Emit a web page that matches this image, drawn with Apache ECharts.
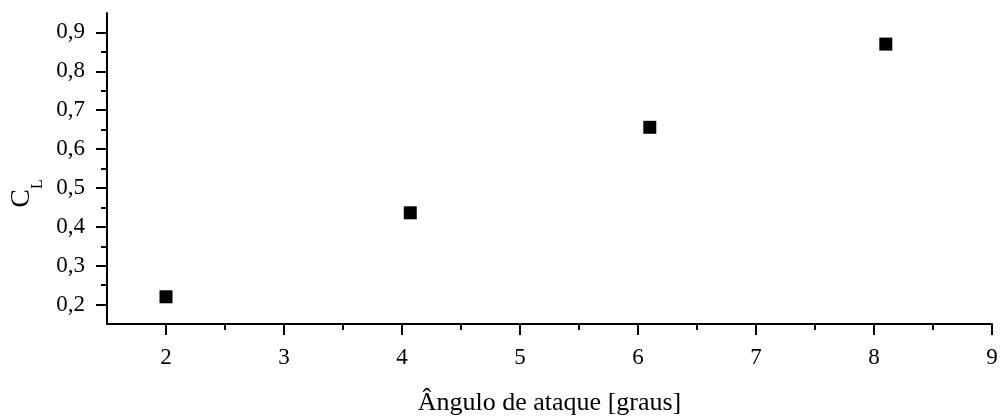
<!DOCTYPE html>
<html>
<head>
<meta charset="utf-8">
<script src="https://cdn.jsdelivr.net/npm/echarts@6/dist/echarts.min.js"></script>
<style>
  html, body { margin: 0; padding: 0; background: #fff; }
  #chart { width: 1000px; height: 417px; }
</style>
</head>
<body>
<div id="chart"></div>
<script>
// Lift coefficient C_L measured at four angles of attack
const angles = [2.0, 4.07, 6.1, 8.1];
const liftCoeff = [0.220, 0.436, 0.656, 0.870];

// Tick positions and labels
const xMajorTicks = [2, 3, 4, 5, 6, 7, 8, 9];
const xMinorTicks = [2.5, 3.5, 4.5, 5.5, 6.5, 7.5, 8.5];
const yMajorTicks = [0.2, 0.3, 0.4, 0.5, 0.6, 0.7, 0.8, 0.9];
const yMinorTicks = [0.25, 0.35, 0.45, 0.55, 0.65, 0.75, 0.85];
const yTickLabels = ['0,2', '0,3', '0,4', '0,5', '0,6', '0,7', '0,8', '0,9'];

const FONT = 'Liberation Serif';
const INK = '#000';

const points = angles.map((a, i) => [a, liftCoeff[i]]);

function yLabel(v) {
  const i = yMajorTicks.findIndex(t => Math.abs(t - v) < 1e-6);
  return i >= 0 ? yTickLabels[i] : '';
}

const chart = echarts.init(document.getElementById('chart'), null, { renderer: 'canvas' });

chart.setOption({
  animation: false,
  backgroundColor: '#fff',
  grid: { left: 107, right: 8, top: 13, bottom: 93, containLabel: false, outerBoundsMode: 'none' },
  xAxis: [
    {
      type: 'value', gridIndex: 0, position: 'bottom',
      min: 1.5, max: 9,
      name: 'Ângulo de ataque [graus]',
      nameLocation: 'middle', nameGap: 66,
      nameTextStyle: { fontFamily: FONT, fontSize: 26, color: INK },
      axisLine: { show: true, onZero: false, lineStyle: { color: INK, width: 2 } },
      axisTick: { show: true, customValues: xMajorTicks, length: 11, lineStyle: { color: INK, width: 2 } },
      axisLabel: { show: true, customValues: xMajorTicks, fontFamily: FONT, fontSize: 23, color: INK, margin: 22 },
      splitLine: { show: false }
    },
    {
      // half-unit minor ticks
      type: 'value', gridIndex: 0, position: 'bottom',
      min: 1.5, max: 9,
      axisLine: { show: false, onZero: false },
      axisTick: { show: true, customValues: xMinorTicks, length: 6, lineStyle: { color: INK, width: 2 } },
      axisLabel: { show: false },
      splitLine: { show: false }
    }
  ],
  yAxis: [
    {
      type: 'value', gridIndex: 0, position: 'left',
      min: 0.15, max: 0.95,
      name: '{c|C}{s|L}',
      nameLocation: 'middle', nameGap: 61,
      nameTextStyle: {
        fontFamily: FONT, color: INK, padding: [0, 50, 0, 0],
        rich: {
          c: { fontFamily: FONT, fontSize: 28, verticalAlign: 'top', color: INK },
          s: { fontFamily: FONT, fontSize: 16, lineHeight: 38, verticalAlign: 'bottom', color: INK }
        }
      },
      axisLine: { show: true, onZero: false, lineStyle: { color: INK, width: 2 } },
      axisTick: { show: true, customValues: yMajorTicks, length: 11, lineStyle: { color: INK, width: 2 } },
      axisLabel: {
        show: true, customValues: yMajorTicks, formatter: yLabel,
        fontFamily: FONT, fontSize: 23, color: INK, margin: 22
      },
      splitLine: { show: false }
    },
    {
      // 0.05 minor ticks
      type: 'value', gridIndex: 0, position: 'left',
      min: 0.15, max: 0.95,
      axisLine: { show: false, onZero: false },
      axisTick: { show: true, customValues: yMinorTicks, length: 6, lineStyle: { color: INK, width: 2 } },
      axisLabel: { show: false },
      splitLine: { show: false }
    }
  ],
  series: [
    {
      type: 'scatter',
      xAxisIndex: 0, yAxisIndex: 0,
      data: points,
      symbol: 'rect',
      symbolSize: 13,
      itemStyle: { color: INK, opacity: 1 }
    }
  ]
});
</script>
</body>
</html>
